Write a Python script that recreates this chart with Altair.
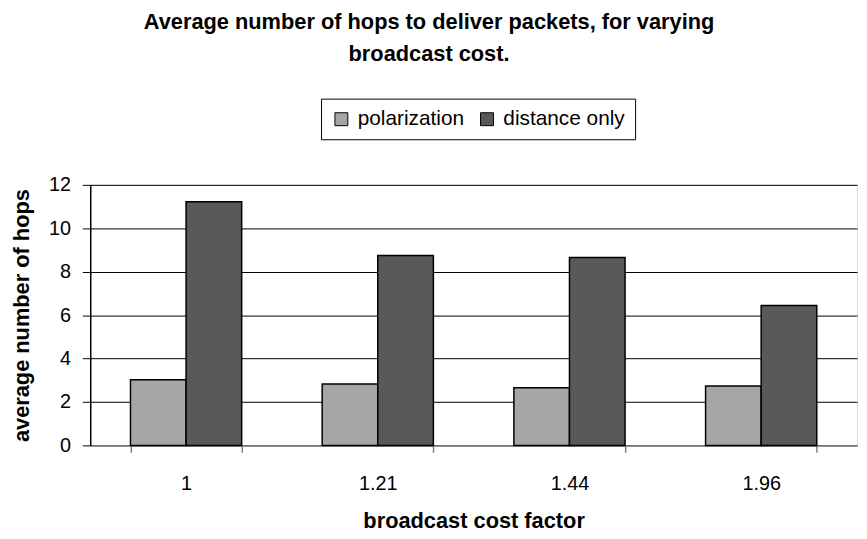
import altair as alt
import pandas as pd

categories = ["1", "1.21", "1.44", "1.96"]
series = ["polarization", "distance only"]
polarization = [3.02, 2.83, 2.65, 2.74]
distance_only = [11.22, 8.74, 8.65, 6.44]
colors = ["#a6a6a6", "#595959"]

rows = []
for c, p, d in zip(categories, polarization, distance_only):
    rows.append({"factor": c, "series": series[0], "hops": p})
    rows.append({"factor": c, "series": series[1], "hops": d})
df = pd.DataFrame(rows)

FONT = "Liberation Sans"

chart = alt.Chart(df).mark_bar(stroke="black", strokeWidth=1.5).encode(
    x=alt.X("factor:N", sort=categories,
            scale=alt.Scale(paddingInner=0.42, paddingOuter=0.21),
            axis=alt.Axis(title="broadcast cost factor", labelAngle=0,
                          tickBand="extent", tickColor="#808080", tickSize=7,
                          tickWidth=1.5,
                          domainColor="#808080", domainWidth=1.5,
                          labelFontSize=20, labelPadding=22, labelColor="black",
                          titleFontSize=22, titleFontWeight="bold", titlePadding=17,
                          titleColor="black", labelFont=FONT, titleFont=FONT)),
    xOffset=alt.XOffset("series:N", sort=series),
    y=alt.Y("hops:Q", scale=alt.Scale(domain=[0, 12]),
            axis=alt.Axis(title="average number of hops", values=[0, 2, 4, 6, 8, 10, 12],
                          grid=True, gridColor="black", gridWidth=1,
                          tickColor="black", tickSize=8, tickWidth=1,
                          domainColor="black", domainWidth=1.5,
                          labelFontSize=20, labelPadding=12, labelColor="black",
                          titleFontSize=22, titleFontWeight="bold", titlePadding=15,
                          titleColor="black", labelFont=FONT, titleFont=FONT)),
    color=alt.Color("series:N", sort=series,
                    scale=alt.Scale(domain=series, range=colors),
                    legend=alt.Legend(title=None, orient="none", legendX=233, legendY=-87,
                                      direction="horizontal", strokeColor="black",
                                      fillColor="white", padding=10,
                                      symbolType="square", symbolSize=170,
                                      symbolStrokeColor="black", symbolStrokeWidth=1,
                                      labelFontSize=21, labelFont=FONT, labelColor="black",
                                      labelOffset=6, columnPadding=12)),
).properties(
    width=774, height=263,
    title=alt.TitleParams(
        text=["Average number of hops to deliver packets, for varying", "broadcast cost."],
        font=FONT, fontSize=22, fontWeight="bold", color="black",
        anchor="middle", dx=-45, offset=32, lineHeight=33),
    autosize=alt.AutoSizeParams(type="none"),
    padding={"left": 83, "top": 176, "right": 2, "bottom": 92},
).configure_view(stroke="#808080", strokeWidth=1.5).configure(background="white")

chart.save("out.html", embed_options={"renderer": "svg", "actions": False})
